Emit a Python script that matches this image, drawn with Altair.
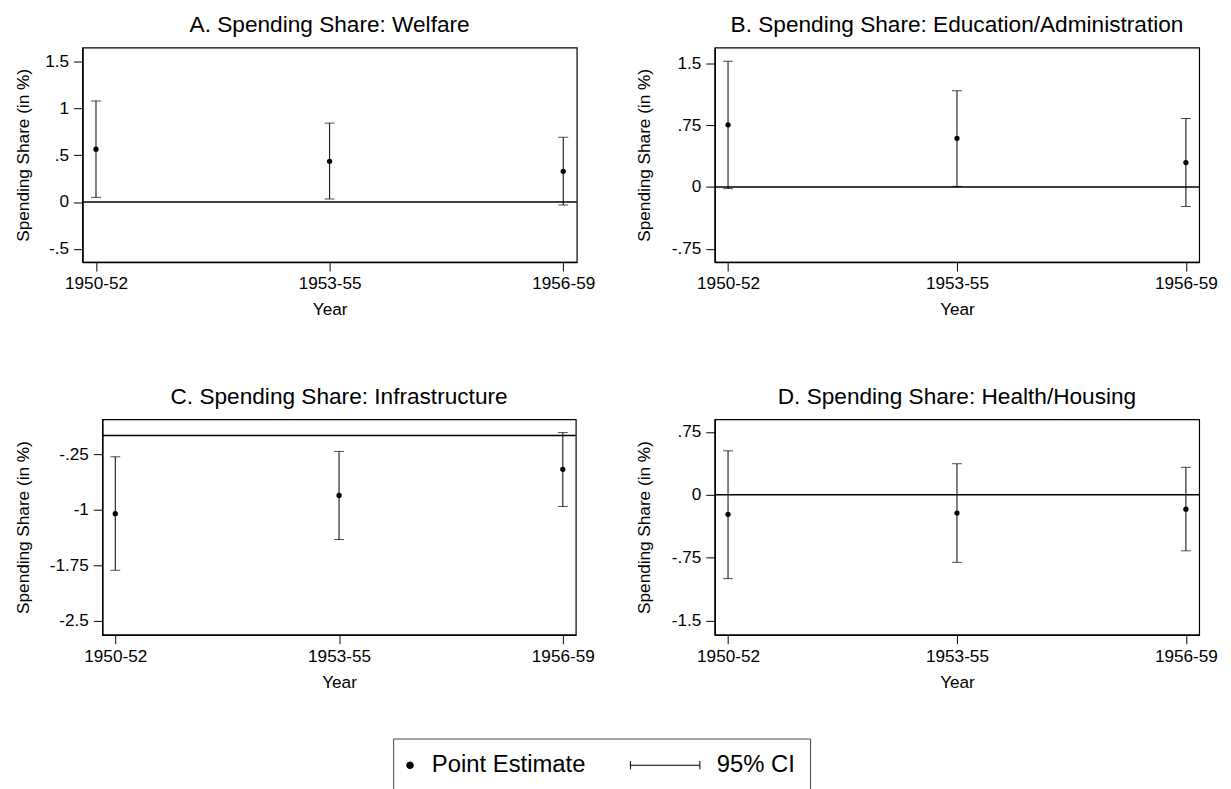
import altair as alt
import pandas as pd

periods = ["1950-52", "1953-55", "1956-59"]

titles = [
    "A. Spending Share: Welfare",
    "B. Spending Share: Education/Administration",
    "C. Spending Share: Infrastructure",
    "D. Spending Share: Health/Housing",
]

welfare_est = [0.563, 0.433, 0.327]
welfare_lo = [0.049, 0.032, -0.032]
welfare_hi = [1.077, 0.841, 0.690]

educ_est = [0.753, 0.590, 0.296]
educ_lo = [-0.020, 0.007, -0.237]
educ_hi = [1.524, 1.167, 0.830]

infra_est = [-1.054, -0.808, -0.455]
infra_lo = [-1.817, -1.402, -0.956]
infra_hi = [-0.286, -0.214, 0.040]

health_est = [-0.233, -0.218, -0.171]
health_lo = [-1.000, -0.806, -0.668]
health_hi = [0.525, 0.371, 0.328]

welfare_ticks = [-0.5, 0, 0.5, 1, 1.5]
educ_ticks = [-0.75, 0, 0.75, 1.5]
infra_ticks = [-2.5, -1.75, -1, -0.25]
health_ticks = [-1.5, -0.75, 0, 0.75]

welfare_domain = [-0.64, 1.645]
educ_domain = [-0.91, 1.689]
infra_domain = [-2.687, 0.218]
health_domain = [-1.67, 0.90]

reference_line = [0]

legend_labels = ["Point Estimate", "95% CI"]
legend_shapes = [
    "M-2.75,0A0.75,0.75,0,1,0,-1.25,0A0.75,0.75,0,1,0,-2.75,0Z",
    "M-15,-0.1L-1,-0.1L-1,0.1L-15,0.1Z"
    "M-15.1,-0.85L-14.9,-0.85L-14.9,0.85L-15.1,0.85Z"
    "M-1.1,-0.85L-0.9,-0.85L-0.9,0.85L-1.1,0.85Z",
]

y_title = "Spending Share (in %)"
x_title = "Year"
FONT = "Liberation Sans"


def panel(title, est, lo, hi, domain, ticks, width, height, ytitle_pad):
    df = pd.DataFrame({"period": periods, "est": est, "lo": lo, "hi": hi})
    yscale = alt.Scale(domain=domain, nice=False, zero=False)
    yaxis = alt.Axis(
        title=y_title,
        values=ticks,
        labelExpr="replace(toString(datum.value), '0.', '.')",
        titlePadding=ytitle_pad,
        labelPadding=5,
    )
    xenc = alt.X(
        "period:N",
        sort=periods,
        scale=alt.Scale(type="point", padding=0.058),
        axis=alt.Axis(title=x_title, labelAngle=0, labelPadding=3.5, titlePadding=9.5),
    )
    base = alt.Chart(df)
    zero = alt.Chart(pd.DataFrame({"v": reference_line})).mark_rule(
        color="black", strokeWidth=1.6
    ).encode(y=alt.Y("v:Q", scale=yscale, axis=yaxis))
    bars = base.mark_rule(color="black", strokeWidth=1).encode(
        x=xenc, y=alt.Y("lo:Q", scale=yscale, axis=yaxis), y2="hi:Q"
    )
    cap_lo = base.mark_tick(color="black", size=10, thickness=1).encode(
        x=xenc, y=alt.Y("lo:Q", scale=yscale, axis=yaxis)
    )
    cap_hi = base.mark_tick(color="black", size=10, thickness=1).encode(
        x=xenc, y=alt.Y("hi:Q", scale=yscale, axis=yaxis)
    )
    pts = base.mark_circle(color="black", size=28, opacity=1).encode(
        x=xenc, y=alt.Y("est:Q", scale=yscale, axis=yaxis)
    )
    return alt.layer(zero, bars, cap_lo, cap_hi, pts).properties(
        width=width,
        height=height,
        title=alt.TitleParams(
            title, fontSize=22.8, font=FONT, fontWeight="normal", color="black", offset=11
        ),
    )


def spacer():
    return (
        alt.Chart(pd.DataFrame({"series": legend_labels}))
        .transform_filter(alt.datum.series == "none")
        .mark_point(opacity=0)
        .encode(x=alt.X("series:N", axis=None), y=alt.Y("series:N", axis=None))
        .properties(width=1, height=1, view=alt.ViewBackground(stroke=None))
    )


pA = panel(titles[0], welfare_est, welfare_lo, welfare_hi, welfare_domain, welfare_ticks, 498, 216, 12)
pB = panel(titles[1], educ_est, educ_lo, educ_hi, educ_domain, educ_ticks, 488, 216, 18)
pC = panel(titles[2], infra_est, infra_lo, infra_hi, infra_domain, infra_ticks, 477, 217, 17)
pD = panel(titles[3], health_est, health_lo, health_hi, health_domain, health_ticks, 488, 217, 18)

leg_legend = alt.Legend(
    title=None,
    orient="none",
    legendX=383,
    legendY=696,
    direction="horizontal",
    labelFont=FONT,
    labelFontSize=24,
    labelColor="black",
    labelOffset=0,
    columnPadding=44,
    padding=15,
    symbolSize=100,
    strokeColor="#444444",
    fillColor="white",
    symbolOpacity=1,
    symbolFillColor="black",
    symbolStrokeWidth=0,
)

legend_chart = (
    alt.Chart(pd.DataFrame({"series": legend_labels}))
    .transform_filter(alt.datum.series == "none")
    .mark_point(filled=True, color="black")
    .encode(
        shape=alt.Shape(
            "series:N",
            sort=legend_labels,
            scale=alt.Scale(domain=legend_labels, range=legend_shapes),
            legend=leg_legend,
        ),
    )
    .properties(width=1, height=1, view=alt.ViewBackground(stroke=None))
)

row1 = alt.hconcat(spacer(), alt.hconcat(pA, pB, spacing=39), spacing=0)
row2 = alt.hconcat(spacer(), alt.hconcat(pC, pD, spacing=39), spacing=0)

chart = (
    alt.concat(row1, row2, legend_chart, columns=1, spacing=65.5, align="none")
    .properties(padding={"left": 5, "top": 2, "right": 5, "bottom": 5})
    .configure(font=FONT)
    .configure_view(stroke="black", strokeWidth=1.2)
    .configure_axis(
        grid=False,
        domain=True,
        domainColor="black",
        domainWidth=1.5,
        tickColor="black",
        tickSize=9,
        labelFont=FONT,
        labelFontSize=17.3,
        labelColor="black",
        titleFont=FONT,
        titleFontSize=17.3,
        titleFontWeight="normal",
        titleColor="black",
    )
)

chart.save("out.html", embed_options={"renderer": "svg", "actions": False})
